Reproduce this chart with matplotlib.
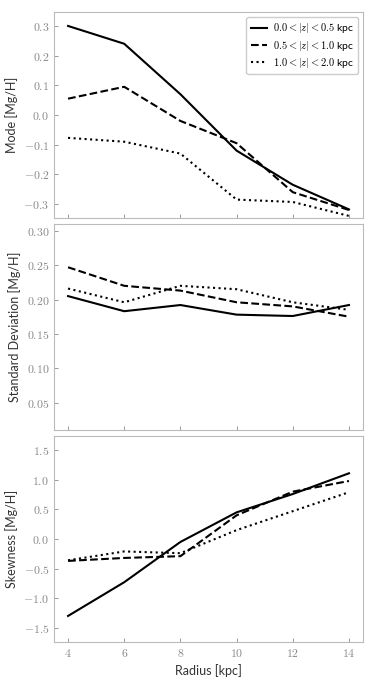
import matplotlib
matplotlib.use("Agg")
import matplotlib.pyplot as plt
import numpy as np

plt.rcParams['mathtext.fontset'] = 'cm'
plt.rcParams['font.family'] = ['Lato', 'DejaVu Sans']

radius = [4, 6, 8, 10, 12, 14]
labels = [r'$0.0 < |z| < 0.5$ kpc', r'$0.5 < |z| < 1.0$ kpc', r'$1.0 < |z| < 2.0$ kpc']
styles = ['-', '--', ':']

mode_low = [0.30, 0.24, 0.07, -0.12, -0.235, -0.318]
mode_mid = [0.055, 0.095, -0.02, -0.095, -0.26, -0.32]
mode_high = [-0.077, -0.09, -0.13, -0.285, -0.293, -0.34]

std_low = [0.205, 0.183, 0.192, 0.178, 0.176, 0.192]
std_mid = [0.247, 0.220, 0.213, 0.196, 0.190, 0.175]
std_high = [0.216, 0.196, 0.220, 0.215, 0.196, 0.185]

skew_low = [-1.30, -0.73, -0.05, 0.45, 0.76, 1.11]
skew_mid = [-0.37, -0.32, -0.29, 0.40, 0.80, 0.98]
skew_high = [-0.36, -0.21, -0.24, 0.15, 0.47, 0.79]

panels = [
    ([mode_low, mode_mid, mode_high], 'Mode [Mg/H]', (-0.347, 0.347), [-0.3, -0.2, -0.1, 0.0, 0.1, 0.2, 0.3], '%.1f'),
    ([std_low, std_mid, std_high], 'Standard Deviation [Mg/H]', (0.01, 0.31), [0.05, 0.10, 0.15, 0.20, 0.25, 0.30], '%.2f'),
    ([skew_low, skew_mid, skew_high], 'Skewness [Mg/H]', (-1.74, 1.74), [-1.5, -1.0, -0.5, 0.0, 0.5, 1.0, 1.5], '%.1f'),
]

fig = plt.figure(figsize=(3.74, 6.85), dpi=100)
tops = [12, 224, 436]
height = 206
left, right = 54, 363

spine_col = '#bbbbbb'
tick_col = '#888888'

for i, (series, ylabel, ylim, yticks, fmt) in enumerate(panels):
    ax = fig.add_axes([left / 374, 1 - (tops[i] + height) / 685, (right - left) / 374, height / 685])
    for s, ls, lab in zip(series, styles, labels):
        ax.plot(radius, s, color='black', ls=ls, lw=1.5, label=lab)
    ax.set_xlim(3.5, 14.5)
    ax.set_ylim(*ylim)
    ax.set_xticks(radius)
    ax.set_yticks(yticks)
    ax.set_yticklabels(['$' + (fmt % v).replace('-', '-') + '$' for v in yticks])
    if i < 2:
        ax.set_xticklabels([])
    else:
        ax.set_xticklabels(['$%d$' % r for r in radius])
        ax.set_xlabel('Radius [kpc]', fontsize=9, color='#333333')
    ax.set_ylabel(ylabel, fontsize=9, color='#333333')
    for sp in ax.spines.values():
        sp.set_color(spine_col)
    ax.tick_params(direction='in', length=3, width=0.6, color=tick_col,
                   labelcolor=tick_col, labelsize=8.5, top=False, right=False)
    if i == 0:
        leg = ax.legend(loc='upper right', fontsize=7.5, handlelength=1.6,
                        handletextpad=0.5, borderpad=0.4, labelspacing=0.3,
                        fancybox=True, framealpha=1)
        leg.get_frame().set_edgecolor('#cccccc')

fig.savefig('out.png', dpi=100)
